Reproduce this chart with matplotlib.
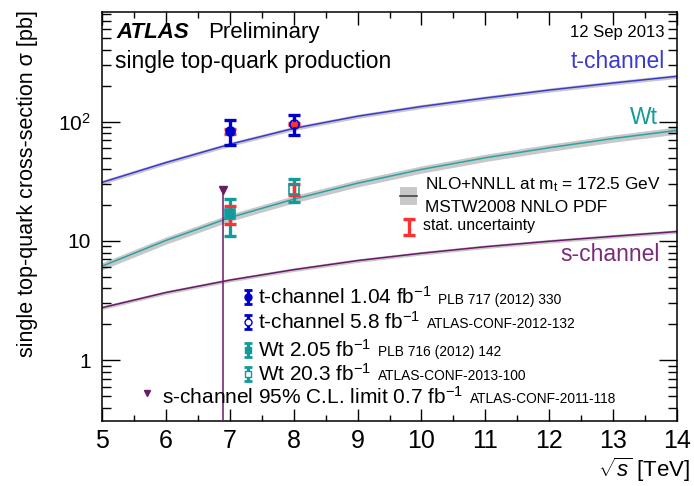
import matplotlib
matplotlib.use("Agg")
import matplotlib.pyplot as plt
from matplotlib.ticker import FixedLocator, LogLocator, NullFormatter, MultipleLocator

plt.rcParams['font.family'] = ['Liberation Sans', 'DejaVu Sans']
plt.rcParams['mathtext.fontset'] = 'custom'
plt.rcParams['mathtext.rm'] = 'Liberation Sans'
plt.rcParams['mathtext.it'] = 'Liberation Sans:italic'
plt.rcParams['mathtext.bf'] = 'Liberation Sans:bold'

# Theory predictions (NLO+NNLL, m_t = 172.5 GeV) vs centre-of-mass energy
energy_tev = [5, 6, 7, 8, 9, 10, 11, 12, 13, 14]
xsec_tchan = [31.0, 45.4, 64.6, 87.8, 111, 134, 158, 184, 211, 240]
xsec_wt = [6.15, 10.1, 15.7, 22.4, 30.5, 39.8, 49.8, 60.5, 72.3, 84.5]
xsec_schan = [2.76, 3.7, 4.7, 5.75, 6.85, 7.9, 8.95, 9.95, 10.95, 12.0]
rel_unc_tchan = 0.04
rel_unc_wt = 0.07
rel_unc_schan = 0.035

# ATLAS measurements: (sqrt s, value, total -err, total +err, stat err)
tchan_2011 = (7.0, 83.0, 19.0, 20.0, 4.0)
tchan_2012 = (8.0, 95.0, 18.0, 18.0, 2.0)
wt_2011 = (7.0, 16.8, 5.7, 5.7, 2.9)
wt_2012 = (8.0, 27.2, 5.8, 5.8, 2.8)
schan_limit_x = 6.9
schan_limit = 26.5

Y_LO, Y_HI = 0.31, 830

c_t = '#0000cc'
c_t_line = '#3a3ad0'
c_wt = '#119c9c'
c_wt_line = '#2aa3a3'
c_s = '#6a1a6a'
c_s_text = '#7a2a7a'
c_red = '#ff3030'
c_band = '#c8c8c8'

fig = plt.figure(figsize=(6.94, 4.86), dpi=100)
ax = fig.add_axes([102/694, 1-421/486, 575/694, 409/486])
ax.set_yscale('log')
ax.set_xlim(5, 14)
ax.set_ylim(Y_LO, Y_HI)

for vals, rel, col in ((xsec_tchan, rel_unc_tchan, c_t_line),
                       (xsec_wt, rel_unc_wt, c_wt_line),
                       (xsec_schan, rel_unc_schan, c_s)):
    lo = [v * (1 - rel) for v in vals]
    hi = [v * (1 + rel) for v in vals]
    ax.fill_between(energy_tev, lo, hi, color=c_band, lw=0, zorder=1)
    ax.plot(energy_tev, vals, color=col, lw=1.1, zorder=2)


def measurement(pt, col, filled, marker):
    x, y, dlo, dhi, st = pt
    ax.errorbar([x], [y], yerr=[[dlo], [dhi]], fmt='none', ecolor=col,
                elinewidth=2.4, capsize=4, capthick=2.4, zorder=4)
    ax.errorbar([x], [y], yerr=[[st], [st]], fmt='none', ecolor=c_red,
                elinewidth=2.4, capsize=4, capthick=2.4, zorder=5)
    ax.plot([x], [y], marker=marker, ms=6.5, color=col,
            mfc=col if filled else 'none', mew=1.2, zorder=6)


measurement(tchan_2011, c_t, True, 'o')
measurement(tchan_2012, c_t, False, 'o')
measurement(wt_2011, c_wt, True, 's')
measurement(wt_2012, c_wt, False, 's')

# s-channel upper limit
ax.vlines(schan_limit_x, Y_LO, schan_limit, color=c_s, lw=1.1, zorder=3)
ax.plot([schan_limit_x], [schan_limit], marker='v', ms=6, color=c_s, zorder=6)

# Axes styling
ax.xaxis.set_major_locator(MultipleLocator(1))
ax.xaxis.set_minor_locator(MultipleLocator(0.5))
ax.yaxis.set_major_locator(FixedLocator([1, 10, 100]))
ax.yaxis.set_minor_locator(LogLocator(base=10, subs=range(2, 10)))
ax.yaxis.set_minor_formatter(NullFormatter())
ax.set_yticklabels(['1', '10', '$10^2$'])
ax.tick_params(axis='both', which='both', direction='in', top=True, right=True,
               width=1.0, color='black')
ax.tick_params(axis='x', which='major', length=9, labelsize=18, pad=6)
ax.tick_params(axis='x', which='minor', length=4.5)
ax.tick_params(axis='y', which='major', length=13, labelsize=15, pad=8)
ax.tick_params(axis='y', which='minor', length=6.5)
for sp in ax.spines.values():
    sp.set_linewidth(1.1)

fig.text(690/694, 1-470/486, r'$\sqrt{s}$ [TeV]', ha='right', va='center', fontsize=16)
fig.text(28/694, 1-10/486, r'single top-quark cross-section σ [pb]', rotation=90,
         ha='center', va='top', fontsize=15.5)

# Header texts
ax.text(0.026, 0.949, 'ATLAS', transform=ax.transAxes, fontsize=16,
        fontweight='bold', fontstyle='italic', va='center', ha='left')
ax.text(0.184, 0.949, 'Preliminary', transform=ax.transAxes, fontsize=16,
        va='center', ha='left')
ax.text(0.023, 0.878, 'single top-quark production', transform=ax.transAxes,
        fontsize=16.5, va='center', ha='left')
ax.text(0.979, 0.949, '12 Sep 2013', transform=ax.transAxes, fontsize=12,
        va='center', ha='right')

# Curve labels
ax.text(0.979, 0.878, 't-channel', transform=ax.transAxes, fontsize=16.5,
        va='center', ha='right', color=c_t_line)
ax.text(0.967, 0.743, 'Wt', transform=ax.transAxes, fontsize=16.5,
        va='center', ha='right', color=c_wt)
ax.text(0.970, 0.408, 's-channel', transform=ax.transAxes, fontsize=16.5,
        va='center', ha='right', color=c_s_text)

# Theory legend
ax.fill_between([0.518, 0.548], [0.528, 0.528], [0.572, 0.572],
                transform=ax.transAxes, color=c_band, lw=0, zorder=6)
ax.plot([0.518, 0.548], [0.550, 0.550], transform=ax.transAxes, color='#444444',
        lw=1.2, zorder=7)
ax.text(0.562, 0.577, r'NLO+NNLL at m$_{\mathregular{t}}$ = 172.5 GeV',
        transform=ax.transAxes, fontsize=12.4, va='center', ha='left')
ax.text(0.562, 0.523, 'MSTW2008 NNLO PDF', transform=ax.transAxes,
        fontsize=12.4, va='center', ha='left')
ax.errorbar([0.534], [0.474], yerr=[[0.019], [0.019]], fmt='none',
            ecolor=c_red, elinewidth=2.4, capsize=4, capthick=2.4,
            transform=ax.transAxes, zorder=7)
ax.text(0.558, 0.477, 'stat. uncertainty', transform=ax.transAxes,
        fontsize=11.4, va='center', ha='left')


def legend_entry(y, col, filled, marker, main, ref):
    ax.errorbar([0.254], [y], yerr=[[0.017], [0.017]], fmt='none', ecolor=col,
                elinewidth=2.4, capsize=3, capthick=2.0,
                transform=ax.transAxes, zorder=7)
    ax.plot([0.254], [y], marker=marker, ms=5, color=col,
            mfc=col if filled else 'white', mew=1.0,
            transform=ax.transAxes, zorder=8)
    t = ax.text(0.271, y, main, transform=ax.transAxes, fontsize=15,
                va='center', ha='left')
    fig.canvas.draw()
    bb = t.get_window_extent().transformed(ax.transAxes.inverted())
    ax.text(bb.x1 + 0.012, y - 0.006, ref, transform=ax.transAxes,
            fontsize=9.9, va='center', ha='left')


legend_entry(0.303, c_t, True, 'o', r't-channel 1.04 fb$^{\mathregular{-1}}$', 'PLB 717 (2012) 330')
legend_entry(0.242, c_t, False, 'o', r't-channel 5.8 fb$^{\mathregular{-1}}$', 'ATLAS-CONF-2012-132')
legend_entry(0.174, c_wt, True, 's', r'Wt 2.05 fb$^{\mathregular{-1}}$', 'PLB 716 (2012) 142')
legend_entry(0.115, c_wt, False, 's', r'Wt 20.3 fb$^{\mathregular{-1}}$', 'ATLAS-CONF-2013-100')

ax.plot([0.078], [0.068], marker='v', ms=5, color=c_s, transform=ax.transAxes, zorder=8)
t = ax.text(0.104, 0.059, r's-channel 95% C.L. limit 0.7 fb$^{\mathregular{-1}}$',
            transform=ax.transAxes, fontsize=15, va='center', ha='left')
fig.canvas.draw()
bb = t.get_window_extent().transformed(ax.transAxes.inverted())
ax.text(bb.x1 + 0.012, 0.053, 'ATLAS-CONF-2011-118', transform=ax.transAxes,
        fontsize=9.9, va='center', ha='left')

ax.set_xlim(5, 14)
ax.set_ylim(Y_LO, Y_HI)
fig.savefig('out.png', dpi=100)
